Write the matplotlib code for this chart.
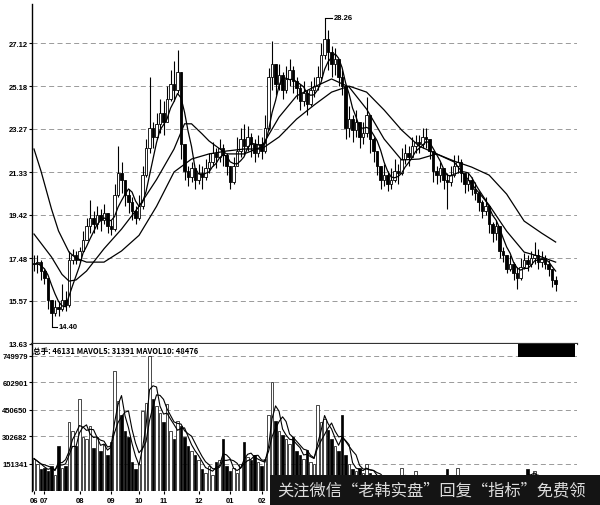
import matplotlib
matplotlib.use('Agg')
import matplotlib.pyplot as plt
from matplotlib.patches import Rectangle
import numpy as np
import pandas as pd

plt.rcParams['font.family'] = ['Liberation Sans', 'Noto Sans CJK SC', 'DejaVu Sans']

close = [17.2, 17.3, 16.9, 16.6, 15.6, 15.0, 15.3, 15.2, 15.6, 15.4,
         17.4, 17.6, 17.4, 17.8, 18.3, 18.9, 19.3, 19.0, 19.4, 19.2,
         19.5, 18.9, 18.8, 20.3, 21.3, 21.0, 20.3, 20.0, 19.6, 19.3,
         19.8, 21.2, 22.4, 23.3, 22.9, 23.5, 24.0, 23.6, 24.6, 25.3,
         25.0, 25.8, 22.6, 21.4, 21.1, 21.5, 21.0, 21.3, 21.1, 21.5,
         21.8, 22.2, 22.0, 22.4, 22.1, 21.6, 20.9, 21.6, 22.3, 22.8,
         22.5, 22.9, 22.6, 22.2, 22.6, 22.3, 23.3, 25.6, 26.2, 25.3,
         25.7, 25.0, 25.5, 25.9, 25.4, 25.1, 24.5, 24.9, 24.4, 25.0,
         25.2, 25.6, 26.6, 27.3, 26.7, 26.2, 26.4, 25.6, 25.2, 23.3,
         23.7, 23.2, 23.6, 22.9, 23.1, 23.9, 22.8, 22.3, 21.6, 21.0,
         21.2, 20.8, 21.0, 21.4, 21.3, 21.9, 22.2, 22.0, 22.5, 22.7,
         22.6, 22.9, 22.8, 22.3, 21.4, 21.2, 21.5, 21.0, 20.9, 21.2,
         21.6, 21.8, 21.3, 20.8, 21.0, 20.6, 20.4, 20.0, 19.6, 19.8,
         19.0, 18.6, 18.9, 17.8, 17.6, 17.0, 17.2, 16.8, 16.6, 17.1,
         17.4, 17.2, 17.5, 17.6, 17.3, 17.5, 17.2, 17.0, 16.5, 16.3]

high = [17.6, 17.6, 17.4, 17.0, 16.6, 15.6, 15.6, 15.5, 16.3, 16.0,
        17.8, 17.9, 17.8, 18.0, 18.7, 19.3, 20.1, 19.6, 19.8, 19.7,
        19.9, 19.5, 19.2, 20.8, 22.5, 21.8, 21.0, 20.6, 20.2, 19.8,
        20.3, 21.6, 22.8, 25.6, 23.6, 24.0, 24.6, 24.5, 25.2, 25.9,
        26.3, 26.8, 25.8, 22.6, 21.6, 21.8, 21.5, 21.7, 21.6, 21.9,
        22.2, 22.7, 22.4, 22.8, 22.6, 22.2, 21.6, 22.0, 22.9, 23.3,
        23.5, 23.4, 23.1, 22.8, 23.0, 22.9, 23.9, 26.0, 27.2, 26.2,
        26.2, 25.8, 26.1, 26.4, 26.1, 25.6, 25.3, 25.4, 25.0, 25.4,
        25.6, 26.1, 27.1, 28.26, 27.7, 27.0, 26.9, 26.4, 25.9, 25.2,
        24.3, 23.9, 24.1, 23.6, 23.6, 24.7, 23.9, 22.9, 22.3, 21.6,
        21.7, 21.4, 21.5, 21.9, 21.7, 22.4, 22.6, 22.5, 22.9, 23.0,
        23.0, 23.3, 23.3, 22.8, 22.3, 21.6, 21.8, 21.5, 21.3, 21.6,
        22.1, 22.1, 21.9, 21.3, 21.3, 21.1, 20.9, 20.5, 20.1, 20.2,
        19.8, 19.1, 19.2, 18.9, 18.0, 17.6, 17.6, 17.3, 17.1, 17.5,
        17.7, 17.6, 17.8, 18.2, 17.9, 17.8, 17.6, 17.4, 17.0, 16.7]

low = [16.9, 16.8, 16.5, 16.3, 15.2, 14.40, 14.9, 14.9, 15.1, 15.1,
       15.3, 17.2, 17.2, 17.3, 17.8, 18.3, 18.6, 18.6, 18.8, 18.7,
       19.0, 18.6, 18.5, 18.7, 20.2, 20.4, 19.8, 19.5, 19.2, 19.0,
       19.2, 19.7, 21.1, 22.2, 22.4, 22.8, 23.1, 23.0, 23.6, 24.5,
       24.5, 24.9, 21.9, 21.0, 20.7, 20.9, 20.6, 20.8, 20.6, 21.0,
       21.3, 21.6, 21.5, 21.8, 21.6, 21.2, 20.6, 20.8, 21.6, 22.0,
       22.1, 22.3, 22.0, 21.8, 22.0, 21.9, 22.2, 23.2, 25.0, 24.8,
       25.0, 24.6, 24.9, 25.2, 24.9, 24.6, 24.1, 24.3, 23.9, 24.3,
       24.7, 25.0, 25.5, 26.4, 25.9, 25.6, 25.7, 25.2, 24.8, 22.8,
       22.9, 22.7, 22.9, 22.4, 22.6, 22.9, 22.2, 21.8, 21.2, 20.6,
       20.7, 20.5, 20.6, 20.9, 20.8, 21.2, 21.7, 21.6, 22.0, 22.2,
       22.2, 22.4, 22.4, 21.9, 20.9, 20.8, 20.9, 20.6, 19.7, 20.7,
       21.1, 21.3, 20.9, 20.4, 20.5, 20.3, 20.1, 19.6, 19.3, 19.4,
       18.6, 18.2, 18.3, 17.5, 17.3, 16.8, 16.9, 16.5, 16.1, 16.5,
       17.0, 16.9, 17.1, 17.2, 17.0, 17.1, 17.0, 16.7, 16.2, 16.0]

# volume in thousand shares
vol_k = [180, 150, 120, 130, 110, 140, 90, 250, 130, 140,
         385, 330, 250, 510, 300, 290, 360, 240, 300, 220,
         260, 200, 270, 667, 500, 420, 330, 300, 160, 120,
         150, 445, 490, 750, 510, 470, 430, 380, 485, 330,
         290, 390, 360, 300, 250, 220, 200, 170, 120, 100,
         140, 90, 160, 170, 290, 140, 110, 130, 100, 150,
         270, 190, 170, 200, 160, 140, 180, 420, 606, 390,
         330, 310, 290, 260, 300, 220, 200, 180, 230, 160,
         150, 475, 380, 400, 340, 290, 250, 220, 420, 200,
         150, 120, 110, 130, 100, 150, 100, 90, 70, 60,
         50, 40, 55, 45, 60, 130, 70, 50, 60, 110,
         50, 40, 60, 45, 70, 50, 40, 55, 120, 50,
         40, 130, 60, 45, 50, 40, 60, 45, 50, 40,
         55, 45, 60, 50, 70, 55, 45, 60, 50, 65,
         80, 120, 70, 110, 60, 35, 30, 25, 30, 46.131]

# medium / slow moving averages
mid_idx = [0, 5, 8, 10, 12, 15, 20, 25, 30, 35, 40, 43, 45, 48, 50, 55, 60, 65,
           70, 75, 80, 85, 90, 95, 100, 105, 110, 115, 120, 125, 130, 135, 140, 145, 149]
ma_mid = [18.56, 17.53, 16.75, 16.45, 16.50, 16.90, 17.90, 18.78, 19.80, 21.00,
          22.37, 23.50, 23.50, 23.05, 22.73, 22.15, 22.15, 22.46, 23.80, 24.75,
          25.15, 25.51, 25.15, 24.16, 22.82, 21.88, 21.92, 22.15, 21.79, 20.80,
          19.86, 18.69, 17.75, 17.53, 17.30]
slow_idx = [0, 2, 5, 7, 10, 12, 15, 20, 25, 30, 35, 40, 45, 50, 55, 60, 65, 70,
            75, 80, 85, 90, 95, 100, 105, 110, 115, 120, 125, 130, 135, 140, 145, 149]
ma_slow = [22.37, 21.38, 19.68, 18.70, 17.75, 17.48, 17.30, 17.30, 17.80, 18.50,
           19.80, 21.34, 21.92, 22.15, 22.28, 22.37, 22.37, 22.91, 23.71, 24.34,
           24.92, 25.19, 24.92, 24.12, 23.22, 22.50, 22.15, 21.83, 21.56, 21.20,
           20.35, 19.14, 18.60, 18.20]

price_ticks = [13.63, 15.57, 17.48, 19.42, 21.33, 23.27, 25.18, 27.12]
vol_ticks = [151341, 302682, 450650, 602901, 749979]
month_idx = [0, 3, 13, 22, 30, 37, 47, 56, 65]
month_labels = ['06', '07', '08', '09', '10', '11', '12', '01', '02']
header = '总手: 46131 MAVOL5: 31391 MAVOL10: 48476'
watermark = '关注微信“老韩实盘”回复“指标”免费领'

close = np.array(close)
high = np.array(high)
low = np.array(low)
vol = np.array(vol_k) * 1000
n = len(close)
x = np.arange(n)
opens = np.r_[close[0], close[:-1]]
up = close >= opens
high = np.maximum(high, np.maximum(opens, close))
low = np.minimum(low, np.minimum(opens, close))
ma_fast = pd.Series(close).rolling(5, min_periods=1).mean()
vma1 = pd.Series(vol).rolling(3, min_periods=1).mean()
vma2 = pd.Series(vol).rolling(5, min_periods=1).mean()

W, H = 600, 506
fig = plt.figure(figsize=(W / 100, H / 100), dpi=100)
ax = fig.add_axes([32 / W, 1 - 345 / H, 545 / W, 340 / H])
axv = fig.add_axes([32 / W, 1 - 492 / H, 545 / W, 147 / H], sharex=ax)

grid_kw = dict(color='#8a8a8a', linestyle=(0, (6, 4)), linewidth=0.6)

# price panel
ax.vlines(x, low, high, color='black', linewidth=0.8, zorder=2)
body_lo = np.minimum(opens, close)
body_h = np.maximum(np.abs(close - opens), 0.05)
ax.bar(x, body_h, bottom=body_lo, width=0.7,
       color=np.where(up, 'white', 'black'), edgecolor='black', linewidth=0.6, zorder=3)
ax.plot(x, ma_fast, color='black', linewidth=0.9, zorder=4)
ax.plot(mid_idx, ma_mid, color='black', linewidth=0.9, zorder=4)
ax.plot(slow_idx, ma_slow, color='black', linewidth=0.9, zorder=4)

i_hi = int(np.argmax(high))
ax.plot([i_hi, i_hi + 2.2], [high[i_hi]] * 2, color='black', linewidth=0.8)
ax.text(i_hi + 2.6, high[i_hi], f'{high[i_hi]:.2f}', fontsize=5.5, va='center',
        fontweight='bold')
i_lo = int(np.argmin(low))
ax.plot([i_lo, i_lo + 1.6], [low[i_lo]] * 2, color='black', linewidth=0.8)
ax.text(i_lo + 2.0, low[i_lo], f'{low[i_lo]:.2f}', fontsize=5.5, va='center',
        fontweight='bold')

ax.set_xlim(-0.57, 155.1)
ax.set_ylim(13.63, 28.87)
ax.set_yticks(price_ticks)
ax.set_yticklabels([f'{t:.2f}' for t in price_ticks], fontweight='bold')
ax.yaxis.grid(True, **grid_kw)
ax.tick_params(axis='y', length=2, pad=1, labelsize=5.5)
ax.tick_params(axis='x', bottom=False, labelbottom=False)
for s in ['top', 'right']:
    ax.spines[s].set_visible(False)
ax.spines['bottom'].set_linewidth(1.6)
ax.spines['bottom'].set_color('#333333')
ax.spines['left'].set_linewidth(1.0)

# volume panel
axv.bar(x, vol, width=0.7, color=np.where(up, 'white', 'black'),
        edgecolor='black', linewidth=0.5, zorder=3)
axv.plot(x, vma1, color='black', linewidth=0.8, zorder=4)
axv.plot(x, vma2, color='black', linewidth=0.8, zorder=4)
axv.set_ylim(0, 815000)
axv.set_yticks(vol_ticks)
axv.set_yticklabels([str(v) for v in vol_ticks], fontweight='bold')
axv.yaxis.grid(True, **grid_kw)
axv.set_xticks(month_idx)
axv.set_xticklabels(month_labels, fontweight='bold')
axv.tick_params(axis='y', length=2, pad=1, labelsize=5.5)
axv.tick_params(axis='x', length=2, pad=2, labelsize=5.5)
for s in ['top', 'right', 'bottom']:
    axv.spines[s].set_visible(False)
axv.spines['left'].set_linewidth(1.0)
axv.text(0.002, 0.985, header, transform=axv.transAxes, va='top', ha='left',
         fontsize=5.5, fontweight='bold', family=['Noto Sans CJK SC', 'DejaVu Sans'])

fig.add_artist(Rectangle((518 / W, 1 - 358 / H), 57 / W, 13 / H,
                         transform=fig.transFigure, facecolor='black', edgecolor='none'))

# watermark strip at the bottom
fig.add_artist(Rectangle((270 / W, 0), 330 / W, 30 / H,
                         transform=fig.transFigure, facecolor='#141414', edgecolor='none', zorder=5))
fig.text(277 / W, 15 / H, watermark, color='#dcdcdc', fontsize=11.7,
         family=['Noto Sans CJK SC', 'DejaVu Sans'], va='center', ha='left', zorder=6)

fig.savefig('out.png', dpi=100)
